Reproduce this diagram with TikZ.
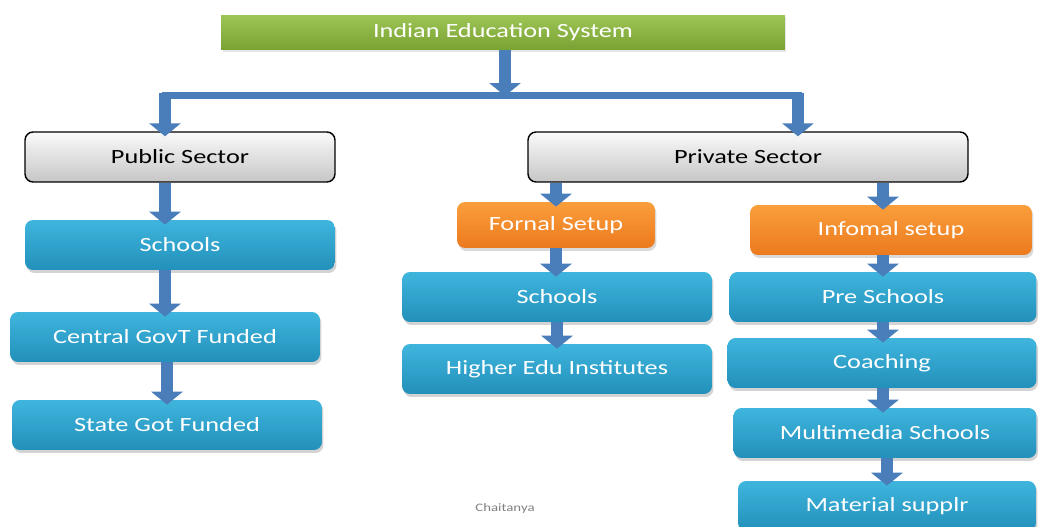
\documentclass[tikz,border=0pt]{standalone}
\usepackage{fontspec}
\setmainfont[FakeStretch=1.3]{Carlito}
\usepackage{tikz}
\usetikzlibrary{arrows.meta,positioning,shadows,calc}

\definecolor{titletop}{HTML}{9DC556}
\definecolor{titlebot}{HTML}{78A232}
\definecolor{greytop}{HTML}{FAFAFA}
\definecolor{greybot}{HTML}{C6C6C6}
\definecolor{orangetop}{HTML}{FA9E3C}
\definecolor{orangebot}{HTML}{EC7A1E}
\definecolor{bluetop}{HTML}{3FB5DD}
\definecolor{bluebot}{HTML}{2290BA}
\definecolor{arrowblue}{HTML}{4A7EBB}

\tikzset{
  box/.style={rounded corners=0.16cm, minimum height=1cm, font=\fontsize{11.5}{13}\selectfont},
  bluebox/.style={box, top color=bluetop, bottom color=bluebot, text=white,
    drop shadow={opacity=0.35, shadow xshift=0.03cm, shadow yshift=-0.06cm}},
  orangebox/.style={box, top color=orangetop, bottom color=orangebot, text=white,
    drop shadow={opacity=0.3, shadow xshift=0.03cm, shadow yshift=-0.06cm}},
  greybox/.style={box, draw=black, thick, top color=greytop, bottom color=greybot, text=black},
  titlebox/.style={box, rounded corners=0pt, minimum height=0.7cm, top color=titletop, bottom color=titlebot, text=white,
    drop shadow={opacity=0.2, shadow xshift=0.03cm, shadow yshift=-0.04cm}},
  blockarrow/.style={line width=0.24cm, draw=arrowblue, shorten >=-0.1cm,
    -{Triangle[width=0.62cm,length=0.26cm]}},
  barline/.style={line width=0.14cm, draw=arrowblue, line cap=rect}
}

\begin{document}
\begin{tikzpicture}[x=0.02cm,y=-0.02cm]
      \useasboundingbox (0,0) rectangle (1039,527);

      %% top of the tree
      \node (system) at (503,32.5) [titlebox, minimum width=11.28cm] {Indian Education System};
      \node (public) at (180,157) [greybox, minimum width=6.2cm] {Public Sector};
      \node (private) at (748,157) [greybox, minimum width=8.8cm] {Private Sector};

      %% public side
      \node (pubschools) at (180,245) [bluebox, minimum width=6.2cm] {Schools};
      \node (central) at (165,337) [bluebox, minimum width=6.2cm] {Central GovT Funded};
      \node (state) at (167,425) [bluebox, minimum width=6.2cm] {State Got Funded};

      %% private side
      \node (formal) at (556,225) [orangebox, minimum width=3.96cm, minimum height=0.92cm] {Fornal Setup};
      \node (informal) at (891,230) [orangebox, minimum width=5.64cm] {Infomal setup};
      \node (privschools) at (557,297) [bluebox, minimum width=6.2cm] {Schools};
      \node (higher) at (557,369) [bluebox, minimum width=6.2cm] {Higher Edu Institutes};
      \node (preschools) at (883,297) [bluebox, minimum width=6.14cm] {Pre Schools};
      \node (coaching) at (882,363) [bluebox, minimum width=6.18cm] {Coaching};
      \node (multimedia) at (885,433) [bluebox, minimum width=6.06cm] {Multimedia Schools};
      \node (material) at (887,506) [bluebox, minimum width=5.96cm] {Material supplr};

      \node (sign) at (505,508) [text=gray, font=\fontsize{6.5}{8}\selectfont] {Chaitanya};

      %% split bar
      \coordinate (split) at (505,96);
      \coordinate (leftturn) at (165,96);
      \coordinate (rightturn) at (798,96);

      \draw[barline] (leftturn) -- (rightturn);
      \draw[blockarrow, shorten >=0pt] (system.south -| split) -- (split);
      \draw[blockarrow] ($(leftturn)+(0,-3)$) -- (public.north -| leftturn);
      \draw[blockarrow] ($(rightturn)+(0,-3)$) -- (private.north -| rightturn);

      %% arrows down the columns
      \draw[blockarrow] (public.south -| leftturn) -- (pubschools.north -| leftturn);
      \draw[blockarrow] (pubschools.south -| central) -- (central.north);
      \draw[blockarrow] (central.south -| state) -- (state.north);
      \draw[blockarrow] (private.south -| formal) -- (formal.north);
      \draw[blockarrow] (private.south -| preschools) -- (informal.north -| preschools);
      \draw[blockarrow] (formal.south) -- (formal.south |- privschools.north);
      \draw[blockarrow] (privschools.south) -- (higher.north);
      \draw[blockarrow] (informal.south -| preschools) -- (preschools.north);
      \draw[blockarrow] (preschools.south) -- (preschools.south |- coaching.north);
      \draw[blockarrow] (coaching.south -| preschools) -- (multimedia.north -| preschools);
      \draw[blockarrow] (multimedia.south -| material) -- (material.north);
\end{tikzpicture}
\end{document}
